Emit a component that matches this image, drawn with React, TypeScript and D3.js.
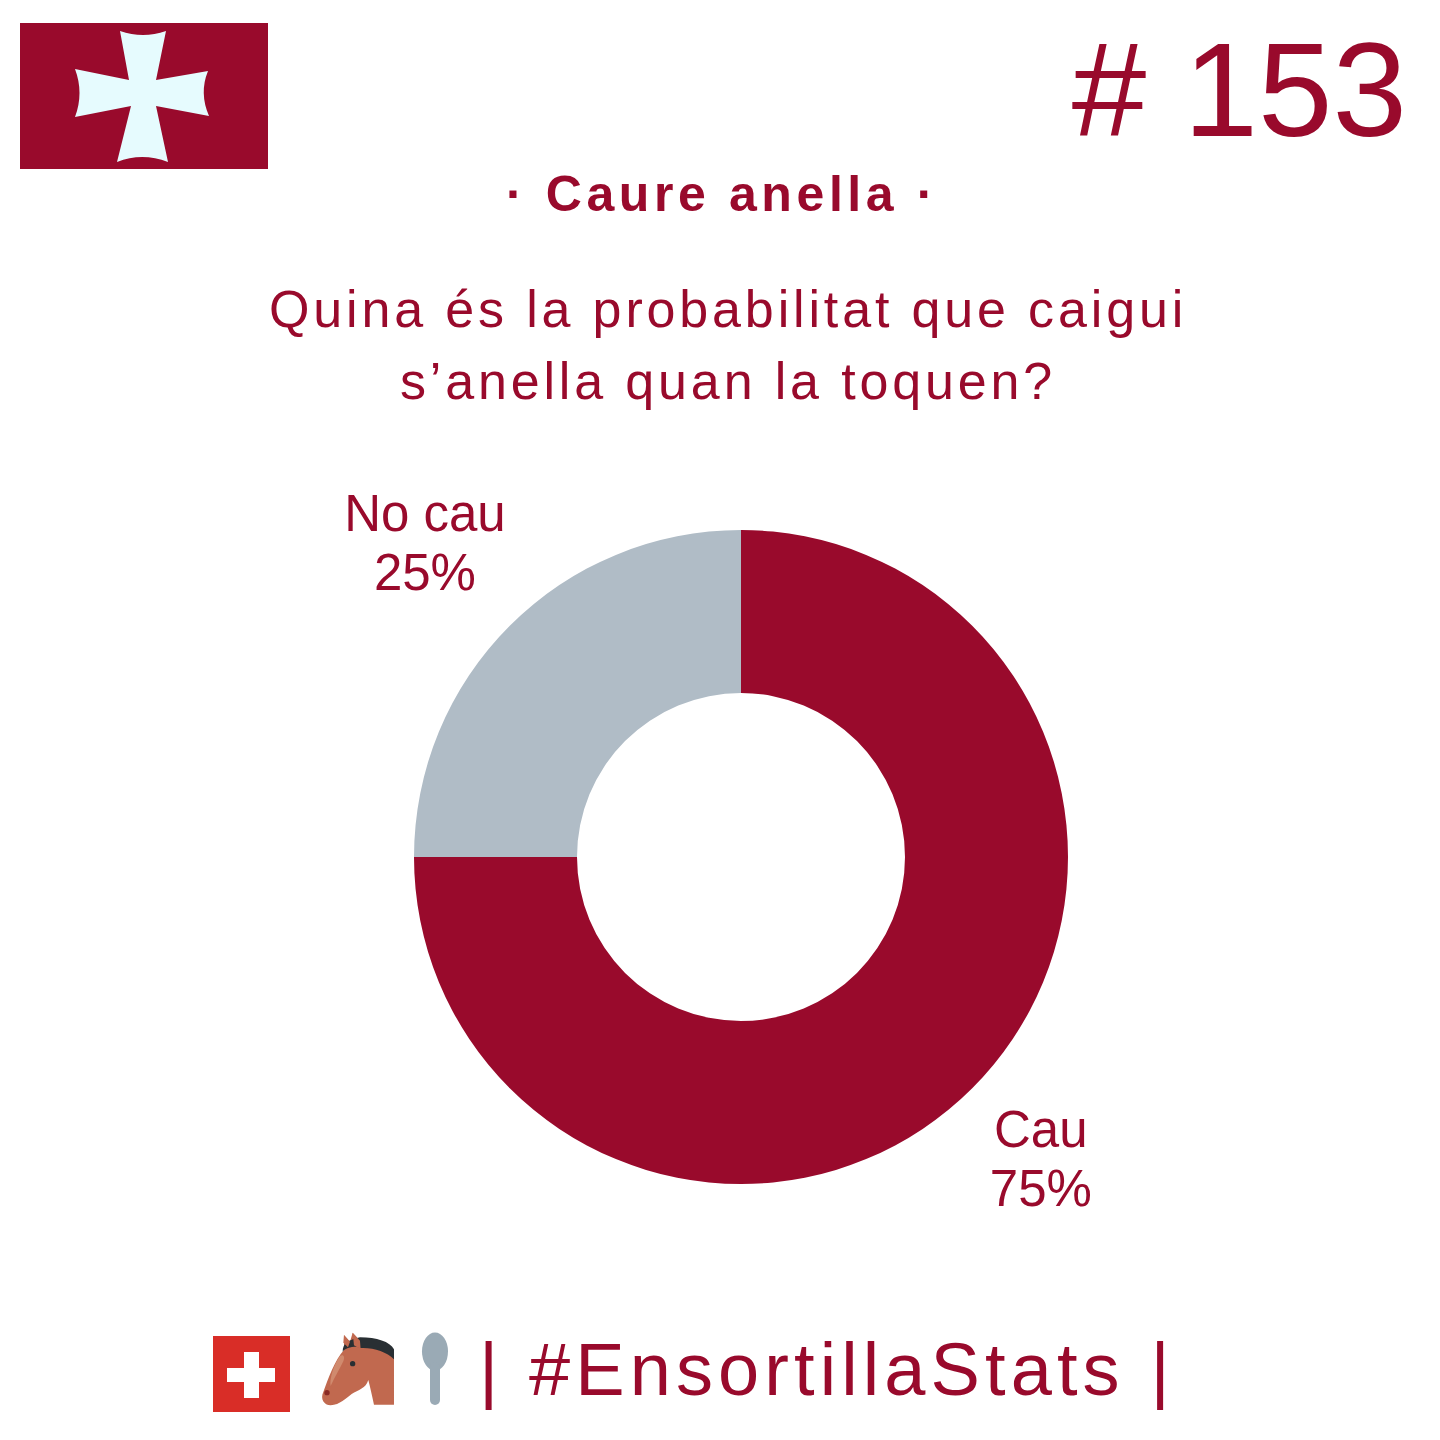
import React, { useEffect, useRef } from 'react'
import * as d3 from 'd3'

// chart values
const categories = ['Cau', 'No cau']
const shares = [75, 25]
const sliceColors = ['#990a2c', '#b0bcc6']

const RED = '#990a2c'
const FONT = '"Liberation Sans", Arial, sans-serif'

const questionLines = ['Quina és la probabilitat que caigui', 's’anella quan la toquen?']

const SIZE = 1440
const cx = 741
const cy = 857
const outerR = 327
const innerR = 164
// how far from the centre each slice's label sits
const labelR = [424, 447]

const App = () => {
  const ref = useRef<SVGSVGElement>(null)

  useEffect(() => {
    const svg = d3.select(ref.current)
    svg.selectAll('*').remove()

    // header flag
    const flag = svg.append('g')
    flag.append('rect')
      .attr('x', 20).attr('y', 23)
      .attr('width', 248).attr('height', 146)
      .attr('fill', RED)
    flag.append('path')
      .attr('d', 'M120,31 Q143,39 166,31 L156,80 L208,71 Q199,93 209,116 L156,106 L168,162 Q142,152 117,162 L131,106 L75,117 Q84,93 75,69 L129,80 Z')
      .attr('fill', '#e6fbfe')

    svg.append('text')
      .attr('x', 1407).attr('y', 136)
      .attr('text-anchor', 'end')
      .attr('font-size', 134)
      .attr('fill', RED)
      .text('# 153')

    svg.append('text')
      .attr('x', 722).attr('y', 211)
      .attr('text-anchor', 'middle')
      .attr('font-size', 50)
      .attr('font-weight', 'bold')
      .attr('letter-spacing', 4.6)
      .attr('fill', RED)
      .text('· Caure anella ·')

    svg.selectAll('text.question')
      .data(questionLines)
      .enter()
      .append('text')
      .attr('class', 'question')
      .attr('x', 728)
      .attr('y', (d, i) => 327 + i * 72)
      .attr('text-anchor', 'middle')
      .attr('font-size', 52)
      .attr('letter-spacing', 3.85)
      .attr('fill', RED)
      .text(d => d)

    // donut
    const pie = d3.pie<number>().sort(null)
    const arc = d3.arc<d3.PieArcDatum<number>>().innerRadius(innerR).outerRadius(outerR)
    const donut = svg.append('g').attr('transform', `translate(${cx},${cy})`)
    donut.selectAll('path')
      .data(pie(shares))
      .enter()
      .append('path')
      .attr('d', arc)
      .attr('fill', (d, i) => sliceColors[i])

    // slice labels sit outside the ring, along the slice's mid angle
    const labels = donut.selectAll('g.label')
      .data(pie(shares))
      .enter()
      .append('g')
      .attr('class', 'label')
      .attr('transform', (d, i) => {
        const labelArc = d3.arc<d3.PieArcDatum<number>>().innerRadius(labelR[i]).outerRadius(labelR[i])
        return `translate(${labelArc.centroid(d)})`
      })
      .attr('text-anchor', 'middle')
      .attr('font-size', 51)
      .attr('fill', RED)
    labels.append('text').attr('y', -10).text((d, i) => categories[i])
    labels.append('text').attr('y', 49).text((d, i) => shares[i] + '%')

    // footer icons
    const swiss = svg.append('g')
    swiss.append('rect').attr('x', 213).attr('y', 1336).attr('width', 77).attr('height', 76).attr('fill', '#d92d27')
    swiss.append('rect').attr('x', 244).attr('y', 1352).attr('width', 15).attr('height', 46).attr('fill', '#fff')
    swiss.append('rect').attr('x', 227).attr('y', 1368).attr('width', 48).attr('height', 14).attr('fill', '#fff')

    const horse = svg.append('g').attr('transform', 'translate(200,1320) scale(0.3333)')
    horse.append('path')
      .attr('d', 'M432,45 L450,65 L458,38 L480,62 C520,70 570,80 582,100 L582,254 L522,254 C516,225 510,200 505,180 C498,205 475,210 455,222 C438,235 420,254 392,256 C372,256 360,236 370,216 C385,175 405,120 432,90 Z')
      .attr('fill', '#c1694f')
    horse.append('path')
      .attr('d', 'M428,95 C428,70 445,60 480,52 C530,52 570,65 582,88 L582,118 C560,95 520,82 482,84 L470,80 C450,80 435,85 428,95 Z')
      .attr('fill', '#292f33')
    horse.append('path')
      .attr('d', 'M458,38 L480,62 L482,88 L462,76 Z M432,45 L450,65 L444,82 L430,68 Z')
      .attr('fill', '#c1694f')
    horse.append('path')
      .attr('d', 'M420,108 C430,102 436,110 430,124 C420,145 405,170 392,198 C388,180 400,135 420,108 Z')
      .attr('fill', '#d08a6e')
    horse.append('circle').attr('cx', 458).attr('cy', 131).attr('r', 8).attr('fill', '#292f33')
    horse.append('circle').attr('cx', 381).attr('cy', 218).attr('r', 8).attr('fill', '#8a2a24')

    const spoon = svg.append('g').attr('fill', '#9aaab5')
    spoon.append('ellipse').attr('cx', 435).attr('cy', 1351.5).attr('rx', 13).attr('ry', 19)
    spoon.append('rect').attr('x', 430).attr('y', 1362).attr('width', 10).attr('height', 43).attr('rx', 5)

    svg.append('text')
      .attr('x', 479).attr('y', 1395)
      .attr('font-size', 74)
      .attr('letter-spacing', 5.1)
      .attr('fill', RED)
      .attr('xml:space', 'preserve')
      .text('| #EnsortillaStats |')
  }, [])

  return (
    <svg
      ref={ref}
      width={SIZE}
      height={SIZE}
      style={{ position: 'absolute', left: 0, top: 0, background: '#fff', fontFamily: FONT }}
    />
  )
}

export default App
